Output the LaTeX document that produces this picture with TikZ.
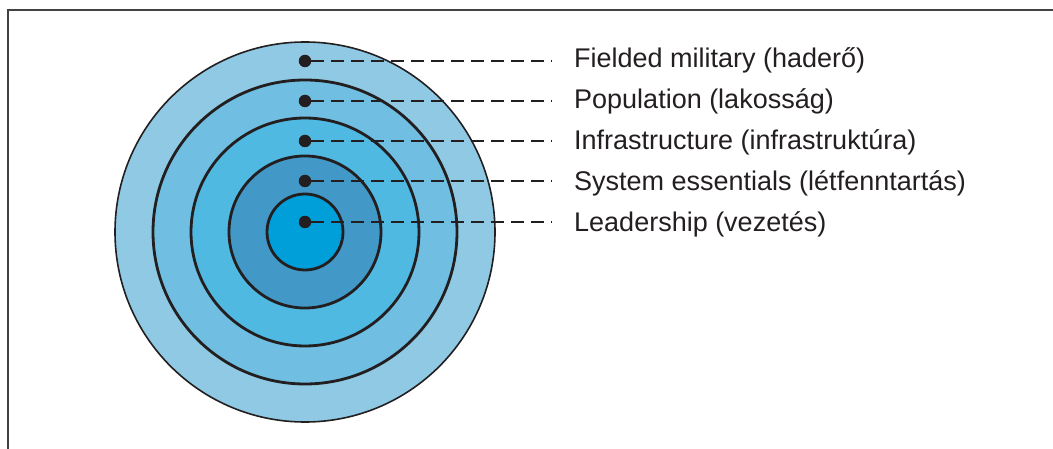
\documentclass[tikz,border=0pt]{standalone}
\usepackage{fontspec}
\setmainfont{Liberation Sans}
\definecolor{inkc}{HTML}{231F20}
\definecolor{ringA}{HTML}{8FC9E4}
\definecolor{ringB}{HTML}{70BFE2}
\definecolor{ringC}{HTML}{50B9E1}
\definecolor{ringD}{HTML}{4299C7}
\definecolor{ringE}{HTML}{009FD9}
\begin{document}
\begin{tikzpicture}[x=1pt,y=-1pt,
  ring/.style={circle, draw=inkc, line width=2.8pt, inner sep=0pt, outer sep=0pt},
  dotnode/.style={circle, fill=inkc, inner sep=0pt, outer sep=0pt, minimum size=12.5pt},
  lbl/.style={anchor=base west, inner sep=0pt, text=inkc, font=\fontsize{27}{32}\selectfont},
  dashline/.style={draw=inkc, line width=1.8pt, dash pattern=on 13pt off 7pt},
  frameline/.style={draw=inkc!85, line width=2pt}]
\useasboundingbox (0,0) rectangle (1053,449);
% frame
\coordinate (fa) at (8,449);
\coordinate (fb) at (8,10);
\coordinate (fc) at (1053,10);
\draw[frameline] (fa) -- (fb) -- (fc);
% rings
\node[ring, fill=ringA, line width=1.6pt, minimum size=380pt] (r1) at (305,232) {};
\node[ring, fill=ringB, minimum size=304pt] (r2) at (305,232) {};
\node[ring, fill=ringC, minimum size=228pt] (r3) at (305,232) {};
\node[ring, fill=ringD, minimum size=152pt] (r4) at (305,232) {};
\node[ring, fill=ringE, minimum size=76pt] (r5) at (305,232) {};
% dots
\node[dotnode] (d1) at (305,61) {};
\node[dotnode] (d2) at (305,101) {};
\node[dotnode] (d3) at (305,141) {};
\node[dotnode] (d4) at (305,181) {};
\node[dotnode] (d5) at (305,222) {};
% line ends
\coordinate (e1) at (552,61);
\coordinate (e2) at (552,101);
\coordinate (e3) at (552,141);
\coordinate (e4) at (552,181);
\coordinate (e5) at (552,222);
\draw[dashline] (d1.east) -- (e1);
\draw[dashline] (d2.east) -- (e2);
\draw[dashline] (d3.east) -- (e3);
\draw[dashline] (d4.east) -- (e4);
\draw[dashline] (d5.east) -- (e5);
% labels
\node[lbl] (t1) at (574,68) {Fielded military (haderő)};
\node[lbl] (t2) at (574,109) {Population (lakosság)};
\node[lbl] (t3) at (574,150) {Infrastructure (infrastruktúra)};
\node[lbl] (t4) at (574,191) {System essentials (létfenntartás)};
\node[lbl] (t5) at (574,232) {Leadership (vezetés)};
\end{tikzpicture}
\end{document}
